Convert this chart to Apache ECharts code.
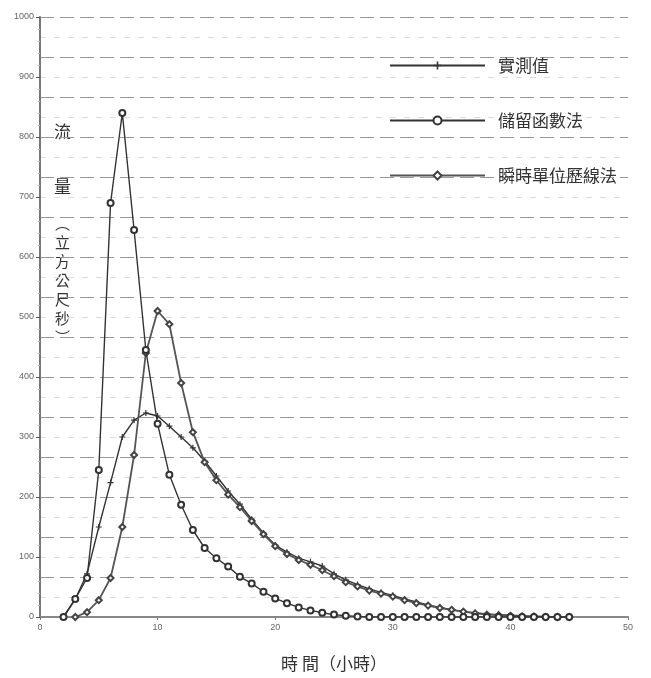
<!DOCTYPE html>
<html>
<head>
<meta charset="utf-8">
<script src="https://cdn.jsdelivr.net/npm/echarts@6/dist/echarts.min.js"></script>
<style>
  html, body { margin: 0; padding: 0; background: #fff; }
  #chart { width: 651px; height: 678px; }
</style>
</head>
<body>
<div id="chart"></div>
<script>
// hours 2..45
let hours = [];
for (let h = 2; h <= 45; h++) hours.push(h);

// 實測值
let measured = [0, 30, 72, 150, 224, 300, 328, 340, 335, 318, 300, 282, 260, 235, 210,
  188, 163, 140, 120, 108, 98, 92, 85, 72, 62, 54, 47, 41, 36, 30,
  25, 20, 16, 12, 9, 7, 5, 4, 3, 2, 1, 1, 0, 0];
// 儲留函數法
let storageFn = [0, 30, 65, 245, 690, 840, 645, 445, 322, 237, 187, 145, 115, 98, 84,
  67, 56, 42, 31, 23, 16, 11, 7, 4, 2, 1, 0, 0, 0, 0,
  0, 0, 0, 0, 0, 0, 0, 0, 0, 0, 0, 0, 0, 0];
// 瞬時單位歷線法
let iuh = ['-', 0, 8, 28, 65, 150, 270, 440, 510, 488, 390, 308, 258, 228, 204,
  183, 160, 138, 118, 105, 95, 87, 78, 68, 58, 51, 44, 39, 34, 28,
  23, 19, 15, 12, 9, 6, 4, 3, 2, 1, 1, 0, 0, 0];

let seriesNames = ['實測值', '儲留函數法', '瞬時單位歷線法'];

let pair = function (vals) {
  return hours.map((h, i) => [h, vals[i]]);
};

let cjk = '"Noto Sans CJK TC", "Noto Sans CJK SC", sans-serif';
let plusPath = 'path://M4,0h2v4h4v2h-4v4h-2v-4h-4v-2h4z';

let myChart = echarts.init(document.getElementById('chart'));
let option = {
  backgroundColor: '#fff',
  animation: false,
  grid: { left: 40, right: 23, top: 17, bottom: 61 },
  legend: {
    orient: 'vertical',
    left: 384,
    top: 52,
    itemWidth: 95,
    itemHeight: 10,
    itemGap: 38,
    data: seriesNames,
    textStyle: { fontFamily: cjk, fontSize: 17, color: '#333', padding: [0, 0, 0, 8] }
  },
  xAxis: {
    type: 'value',
    min: 0,
    max: 50,
    interval: 10,
    name: '時 間（小時）',
    nameLocation: 'middle',
    nameGap: 38,
    nameTextStyle: { fontFamily: cjk, fontSize: 17, color: '#333' },
    axisLine: { lineStyle: { color: '#888', width: 2 } },
    axisTick: { length: 3, lineStyle: { color: '#777' } },
    axisLabel: { fontSize: 9, color: '#666', margin: 6 },
    splitLine: { show: false }
  },
  yAxis: [
    {
      type: 'value',
      min: 0,
      max: 1000,
      interval: 100,
      axisLine: { show: true, lineStyle: { color: '#777', width: 2 } },
      axisTick: { show: true, length: 4, lineStyle: { color: '#555' } },
      minorTick: { show: true, splitNumber: 5, length: 2, lineStyle: { color: '#bbb' } },
      axisLabel: { fontSize: 9, color: '#666', margin: 6, formatter: v => String(v) },
      splitLine: { show: false }
    },
    {
      // ruled lines of the scanned sheet
      type: 'value',
      min: 0,
      max: 1000,
      interval: 1000 / 15,
      show: true,
      position: 'left',
      axisLine: { show: false },
      axisTick: { show: false },
      axisLabel: { show: false },
      splitLine: { show: true, lineStyle: { color: '#999', type: [14, 6], width: 1 } },
      minorSplitLine: { show: true, lineStyle: { color: '#ddd', type: [6, 8], width: 1 } },
      minorTick: { show: false, splitNumber: 2 }
    }
  ],
  series: [
    {
      name: seriesNames[0],
      type: 'line',
      data: pair(measured),
      symbol: plusPath,
      symbolSize: 6,
      itemStyle: { color: '#333' },
      lineStyle: { color: '#333', width: 1.4 },
      z: 3
    },
    {
      name: seriesNames[1],
      type: 'line',
      data: pair(storageFn),
      symbol: 'emptyCircle',
      symbolSize: 6,
      itemStyle: { color: '#333', borderWidth: 1.2 },
      lineStyle: { color: '#333', width: 1.4 },
      z: 4
    },
    {
      name: seriesNames[2],
      type: 'line',
      data: pair(iuh),
      symbol: 'emptyDiamond',
      symbolSize: 6,
      itemStyle: { color: '#444', borderWidth: 1.2 },
      lineStyle: { color: '#555', width: 1.8 },
      z: 3
    }
  ],
  graphic: [
    {
      type: 'text',
      left: 54,
      top: 104,
      style: { text: '流\n量', font: '17px ' + cjk, fill: '#333', lineHeight: 55 }
    },
    {
      type: 'text',
      left: 55,
      top: 214,
      style: { text: '︵\n立\n方\n公\n尺\n秒\n︶', font: '15px ' + cjk, fill: '#333', lineHeight: 19 }
    }
  ]
};
myChart.setOption(option);
</script>
</body>
</html>
